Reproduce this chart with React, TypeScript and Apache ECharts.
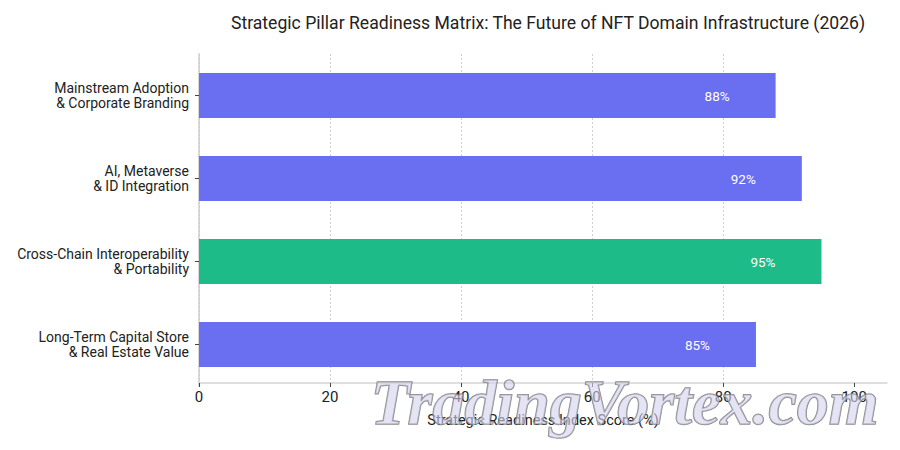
import React, { useEffect, useRef } from "react";
import * as echarts from "echarts";

const categories = [
  "Mainstream Adoption\n& Corporate Branding",
  "AI, Metaverse\n& ID Integration",
  "Cross-Chain Interoperability\n& Portability",
  "Long-Term Capital Store\n& Real Estate Value",
];
const scores = [88, 92, 95, 85];
const highlight = [false, false, true, false];
const xTicks = [0, 20, 40, 60, 80, 100];

const PURPLE = "#6a6ef0";
const GREEN = "#1dbb87";
const FONT = "Roboto, 'Noto Sans', sans-serif";

export default function App() {
  const ref = useRef<HTMLDivElement>(null);

  useEffect(() => {
    document.body.style.margin = "0";
    if (!ref.current) return;
    const chart = echarts.init(ref.current, undefined, { renderer: "svg" });
    chart.setOption({
      animation: false,
      backgroundColor: "#ffffff",
      textStyle: { fontFamily: FONT },
      title: {
        text: "Strategic Pillar Readiness Matrix: The Future of NFT Domain Infrastructure (2026)",
        left: 543,
        top: 9,
        textAlign: "center",
        textStyle: { fontFamily: FONT, fontSize: 17.6, fontWeight: "normal", color: "#222" },
      },
      grid: { left: 199, right: 13, top: 54, height: 332 },
      xAxis: {
        type: "value",
        min: 0,
        max: 105,
        interval: 20,
        offset: -3,
        name: "Strategic Readiness Index Score (%)",
        nameLocation: "middle",
        nameGap: 30,
        nameTextStyle: { fontFamily: FONT, fontSize: 14.5, color: "#222" },
        axisLine: { show: true, lineStyle: { color: "#d4d4d4", width: 1.5 } },
        axisTick: { show: true, length: 4, customValues: xTicks, lineStyle: { color: "#444" } },
        axisLabel: {
          fontFamily: FONT,
          fontSize: 15,
          color: "#222",
          margin: 6,
          customValues: xTicks,
        },
        splitLine: {
          show: true,
          showMinLine: true,
          showMaxLine: false,
          lineStyle: { color: "#cfcfcf", type: [2, 2], width: 1 },
        },
      },
      yAxis: {
        type: "category",
        inverse: true,
        data: categories,
        axisLine: { show: true, lineStyle: { color: "#cccccc", width: 1.5 } },
        axisTick: { show: true, alignWithLabel: true, length: 4, lineStyle: { color: "#444" } },
        axisLabel: {
          fontFamily: FONT,
          fontSize: 14,
          color: "#222",
          lineHeight: 15,
          align: "right",
          margin: 10,
        },
      },
      series: [
        {
          type: "bar",
          barWidth: 45,
          data: scores.map((v, i) => ({
            value: v,
            itemStyle: { color: highlight[i] ? GREEN : PURPLE },
          })),
          label: {
            show: true,
            position: "insideRight",
            distance: 46,
            formatter: "{c}%",
            color: "#ffffff",
            fontFamily: FONT,
            fontSize: 13.5,
          },
        },
      ],
      graphic: [
        {
          type: "text",
          left: 370,
          top: 370,
          z: 100,
          style: {
            text: "TradingVortex.com",
            font: "italic bold 64px 'Liberation Serif', serif",
            fill: "rgba(210,210,238,0.6)",
            stroke: "rgba(110,110,110,0.8)",
            lineWidth: 1.5,
          },
        },
      ],
    });
    return () => chart.dispose();
  }, []);

  return <div ref={ref} style={{ width: 900, height: 450 }} />;
}
